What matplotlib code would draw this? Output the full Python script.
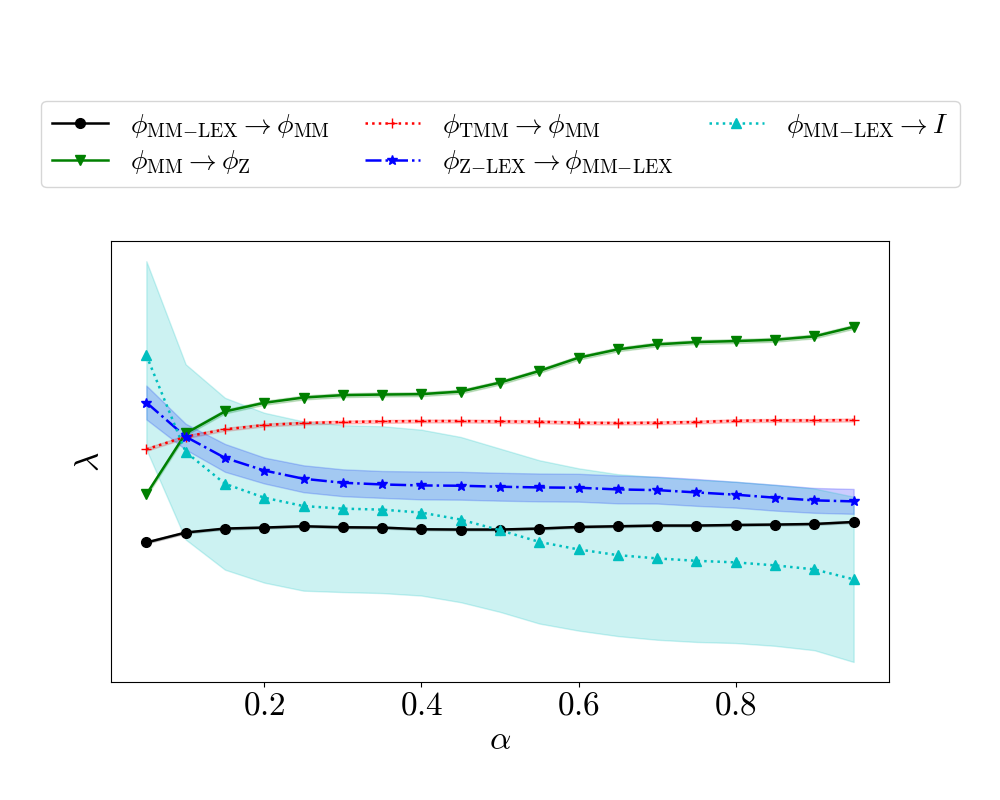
import matplotlib
matplotlib.use('Agg')
import matplotlib.pyplot as plt
import numpy as np

plt.rcParams['mathtext.fontset'] = 'cm'
plt.rcParams['font.family'] = 'serif'
plt.rcParams['font.serif'] = ['cmr10', 'DejaVu Serif']

alpha = [0.05, 0.10, 0.15, 0.20, 0.25, 0.30, 0.35, 0.40, 0.45, 0.50,
         0.55, 0.60, 0.65, 0.70, 0.75, 0.80, 0.85, 0.90, 0.95]

# mean and spread per curve (arbitrary lambda units, no y scale shown)
mmlex_to_mm = [1.577, 1.677, 1.717, 1.727, 1.740, 1.730, 1.727, 1.710, 1.707, 1.707,
               1.717, 1.733, 1.740, 1.747, 1.747, 1.753, 1.757, 1.763, 1.783]
mmlex_to_mm_sd = [0.01] * 19

mm_to_z = [2.060, 2.673, 2.893, 2.980, 3.033, 3.057, 3.063, 3.067, 3.093, 3.183,
           3.300, 3.433, 3.517, 3.567, 3.590, 3.600, 3.613, 3.647, 3.743]
mm_to_z_sd = [0.02] * 19

tmm_to_mm = [2.513, 2.640, 2.713, 2.757, 2.777, 2.787, 2.793, 2.797, 2.797, 2.793,
             2.790, 2.780, 2.777, 2.780, 2.787, 2.800, 2.803, 2.803, 2.807]
tmm_to_mm_sd = [0.015] * 19

zlex_to_mmlex = [2.983, 2.640, 2.427, 2.300, 2.217, 2.177, 2.160, 2.150, 2.147, 2.137,
                 2.130, 2.127, 2.110, 2.103, 2.080, 2.057, 2.027, 2.000, 1.990]
zlex_to_mmlex_sd = [0.17, 0.13, 0.14, 0.13, 0.135, 0.135, 0.135, 0.14, 0.14, 0.14,
                    0.14, 0.14, 0.14, 0.135, 0.135, 0.13, 0.13, 0.125, 0.125]

mmlex_to_id = [3.457, 2.487, 2.167, 2.027, 1.943, 1.917, 1.907, 1.877, 1.807, 1.700,
               1.583, 1.507, 1.450, 1.417, 1.393, 1.377, 1.347, 1.307, 1.207]
mmlex_to_id_sd = [0.945, 0.88, 0.863, 0.853, 0.85, 0.838, 0.838, 0.833, 0.83, 0.82,
                  0.82, 0.815, 0.813, 0.817, 0.815, 0.81, 0.808, 0.812, 0.83]

labels = [r'$\phi_{\mathrm{MM{-}LEX}} \rightarrow \phi_{\mathrm{MM}}$',
          r'$\phi_{\mathrm{MM}} \rightarrow \phi_{\mathrm{Z}}$',
          r'$\phi_{\mathrm{TMM}} \rightarrow \phi_{\mathrm{MM}}$',
          r'$\phi_{\mathrm{Z{-}LEX}} \rightarrow \phi_{\mathrm{MM{-}LEX}}$',
          r'$\phi_{\mathrm{MM{-}LEX}} \rightarrow I$']

xticks = [0.2, 0.4, 0.6, 0.8]
xticklabels = ['$0.2$', '$0.4$', '$0.6$', '$0.8$']

series = [
    (mmlex_to_mm, mmlex_to_mm_sd, 'k', '-', 'o'),
    (mm_to_z, mm_to_z_sd, 'g', '-', 'v'),
    (tmm_to_mm, tmm_to_mm_sd, 'r', ':', '+'),
    (zlex_to_mmlex, zlex_to_mmlex_sd, 'b', '-.', '*'),
    (mmlex_to_id, mmlex_to_id_sd, 'c', ':', '^'),
]

fig = plt.figure(figsize=(10, 8), dpi=100)
ax = fig.add_axes([0.111, 0.1475, 0.778, 0.551])

x = np.array(alpha)
handles = []
for (m, s, col, ls, mk), lab in zip(series, labels):
    m = np.array(m); s = np.array(s)
    h, = ax.plot(x, m, color=col, linestyle=ls, marker=mk, markersize=7,
                 linewidth=1.8, label=lab)
    ax.fill_between(x, m - s, m + s, color=col, alpha=0.2)
    handles.append(h)

ax.set_xticks(xticks)
ax.set_xticklabels(xticklabels, fontsize=24)
ax.set_yticks([])
ax.set_xlabel(r'$\alpha$', fontsize=24)
ax.set_ylabel(r'$\lambda$', fontsize=24)

fig.legend(handles, labels, loc='upper left', bbox_to_anchor=(0.041, 0.874, 0.919, 0),
           mode='expand', ncol=3, fontsize=20, borderaxespad=0, labelspacing=0.3)

fig.savefig('out.png', dpi=100)
